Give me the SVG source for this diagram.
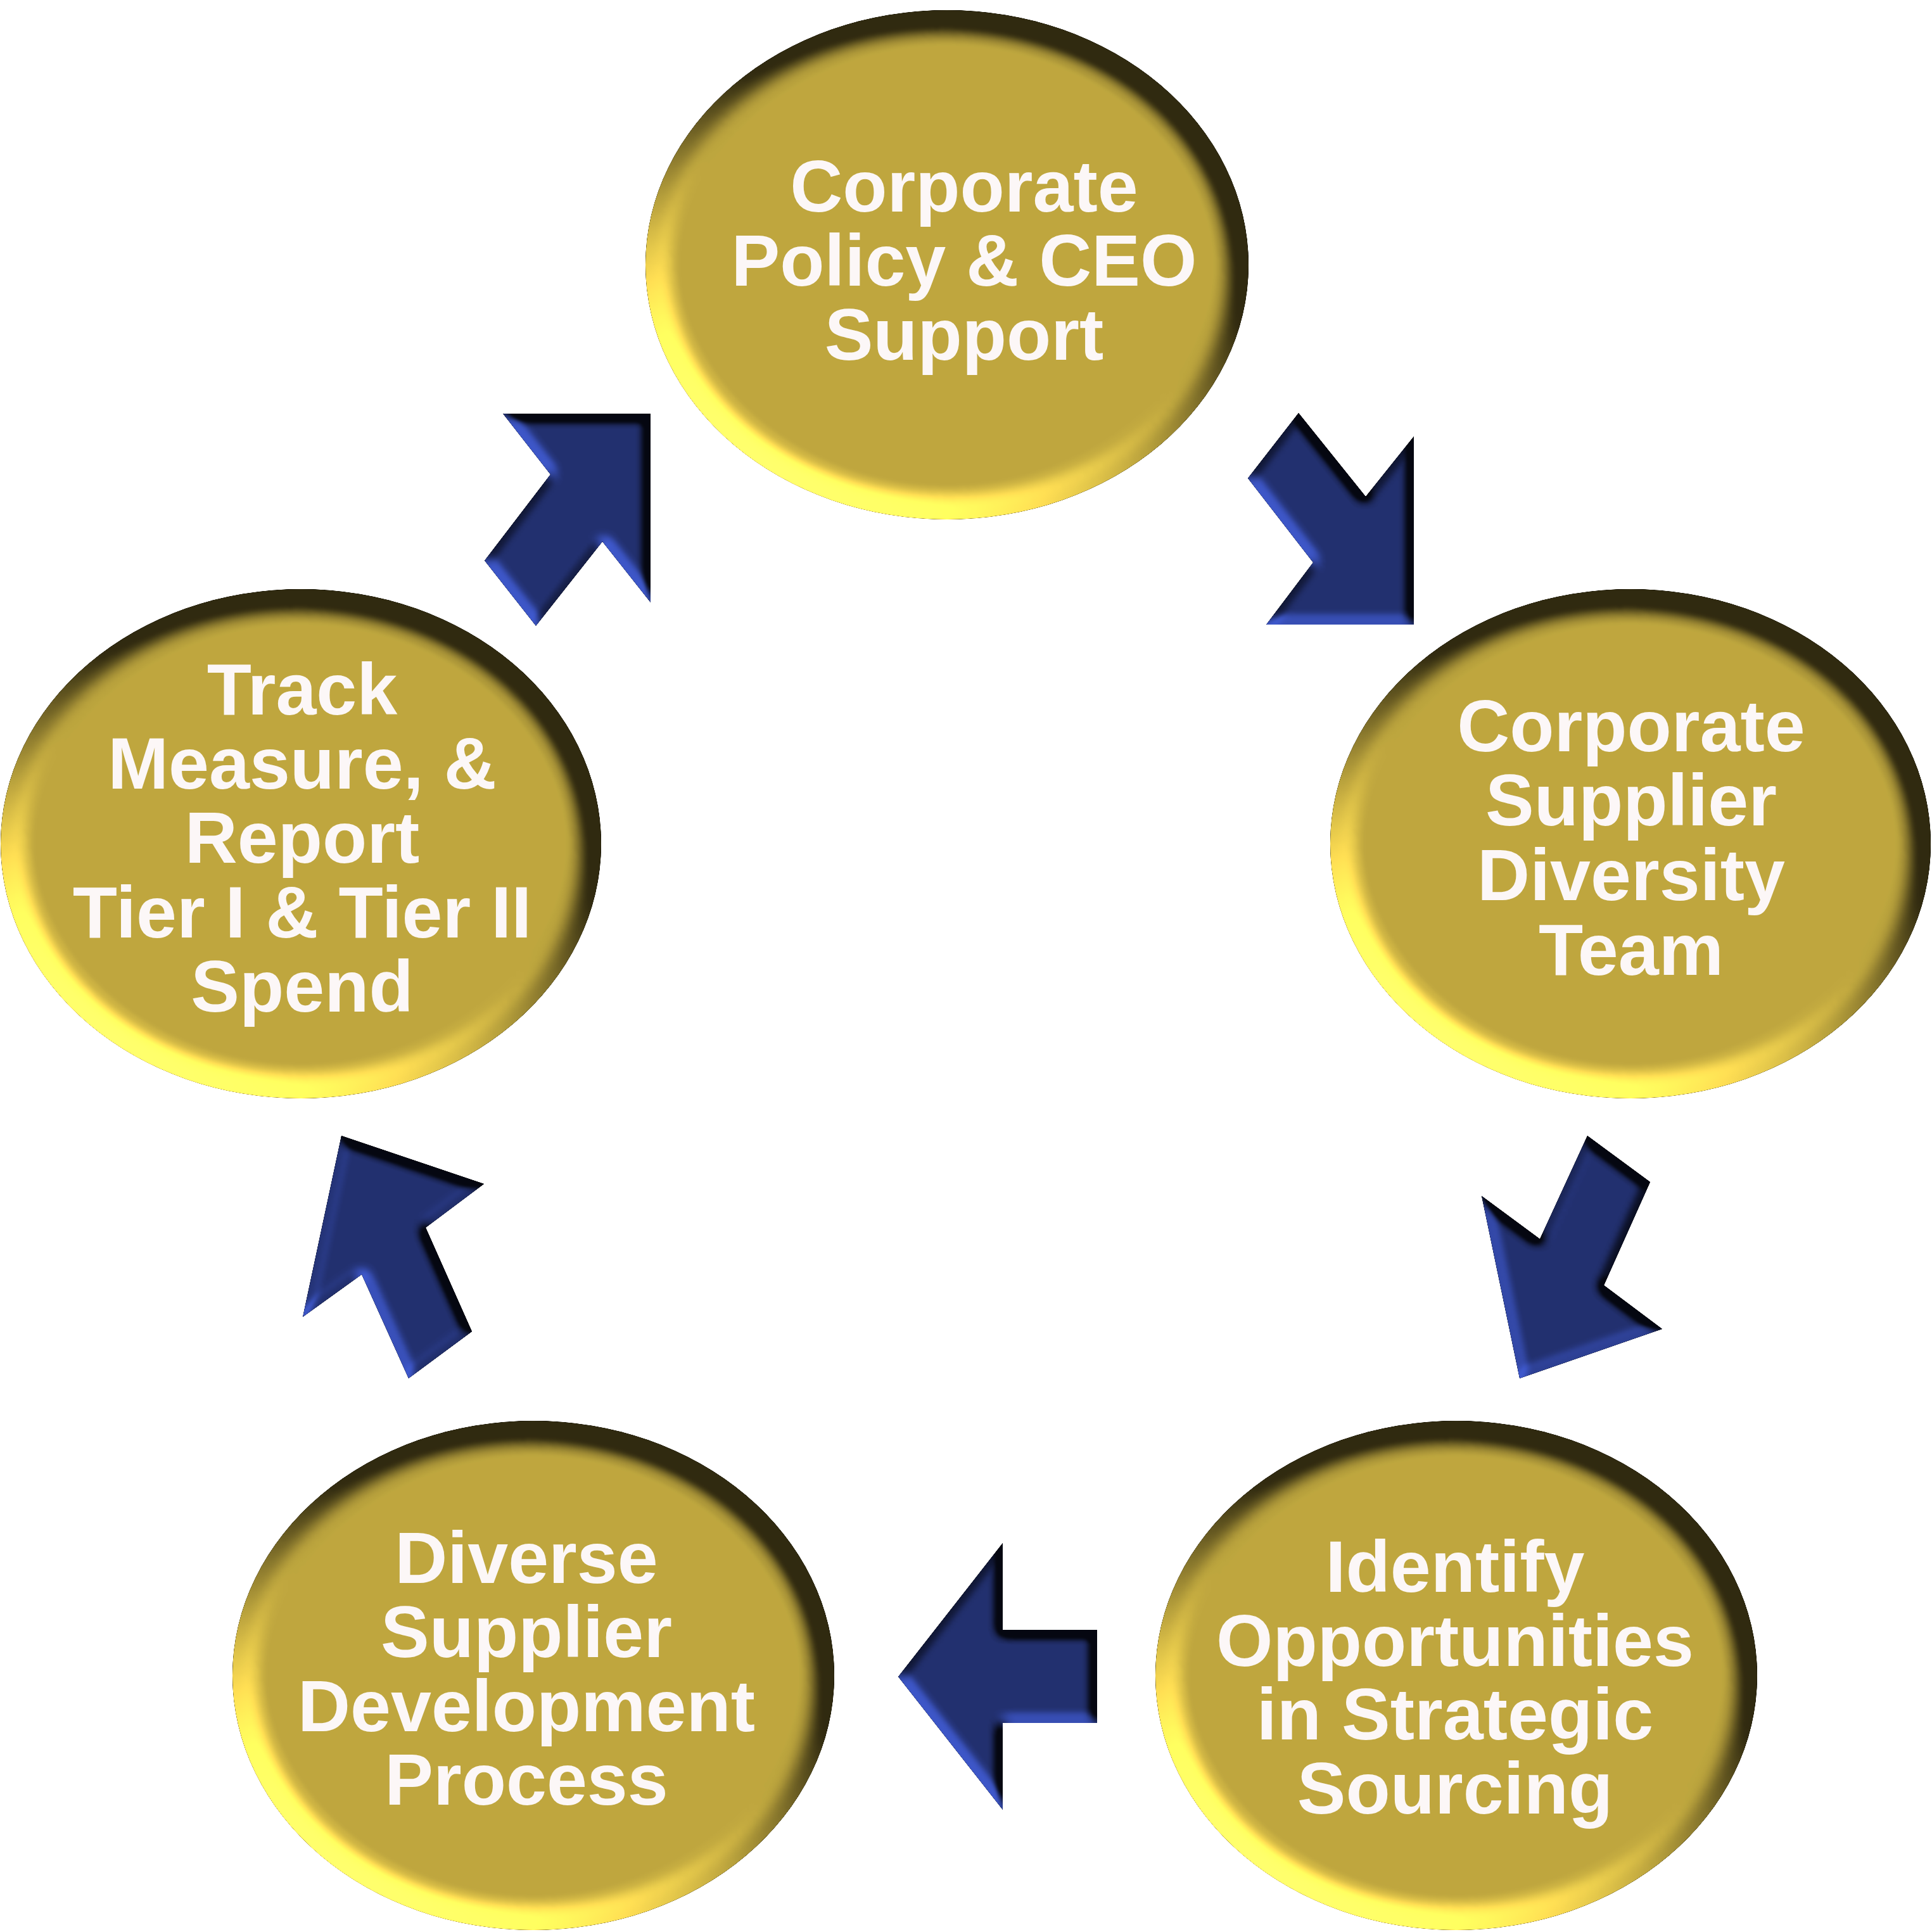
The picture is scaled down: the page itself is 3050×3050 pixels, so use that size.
<svg xmlns="http://www.w3.org/2000/svg" width="3050" height="3050" viewBox="0 0 3050 3050">
<defs>
<style>
.node ellipse{fill:#BEA63E;filter:url(#bevelE)}
.arrow polygon{fill:#22306F;filter:url(#bevelA)}
.lbl{font-family:"Liberation Sans",Arial,sans-serif;font-weight:bold;font-size:115px;fill:#FCF7F7;text-anchor:middle}
</style>
<filter id="bevelE" x="-5%" y="-5%" width="110%" height="110%" color-interpolation-filters="sRGB">
<feGaussianBlur in="SourceAlpha" stdDeviation="20" result="b"/>
<feDiffuseLighting in="b" surfaceScale="45" diffuseConstant="1" lighting-color="#ffffff" result="l">
<feDistantLight azimuth="125" elevation="30"/>
</feDiffuseLighting>
<feGaussianBlur in="l" stdDeviation="3" result="ls"/>
<feComposite in="ls" in2="SourceGraphic" operator="arithmetic" k1="1.5" k2="0" k3="0.25" k4="0"/>
</filter>
<filter id="bevelA" x="-10%" y="-10%" width="120%" height="120%" color-interpolation-filters="sRGB">
<feGaussianBlur in="SourceAlpha" stdDeviation="9" result="b"/>
<feDiffuseLighting in="b" surfaceScale="20" diffuseConstant="1" lighting-color="#ffffff" result="l">
<feDistantLight azimuth="125" elevation="30"/>
</feDiffuseLighting>
<feGaussianBlur in="l" stdDeviation="1.5" result="ls"/>
<feComposite in="ls" in2="SourceGraphic" operator="arithmetic" k1="1.7" k2="0" k3="0.15" k4="0"/>
</filter>
</defs>
<rect width="3050" height="3050" fill="#ffffff"/>
<g id="connectors" class="arrow">
<polygon id="arrow-track-to-policy" points="794,653 1027,653 1027,951 951,855 846,988 765,885 869,749"/>
<polygon id="arrow-policy-to-team" points="2050,652 2156,784 2232,689 2232,986 1999,986 2073,888 1970,755"/>
<polygon id="arrow-team-to-identify" points="2506,1793 2605,1866 2532,2029 2624,2098 2399,2176 2339,1888 2431,1956"/>
<polygon id="arrow-identify-to-diverse" points="1583,2436 1583,2573 1732,2573 1732,2720 1583,2720 1583,2857 1418,2647"/>
<polygon id="arrow-diverse-to-track" points="539,1793 764,1869 672,1938 745,2102 645,2176 571,2012 478,2079"/>
</g>
<g id="node-policy" class="node">
<ellipse cx="1495" cy="418" rx="476" ry="402"/>
<text class="lbl" x="1522" y="334">Corporate</text>
<text class="lbl" x="1522" y="451">Policy &amp; CEO</text>
<text class="lbl" x="1522" y="568">Support</text>
</g>
<g id="node-team" class="node">
<ellipse cx="2574" cy="1332" rx="474" ry="402"/>
<text class="lbl" x="2575" y="1186">Corporate</text>
<text class="lbl" x="2575" y="1303">Supplier</text>
<text class="lbl" x="2575" y="1421">Diversity</text>
<text class="lbl" x="2575" y="1539">Team</text>
</g>
<g id="node-identify" class="node">
<ellipse cx="2299" cy="2645" rx="475" ry="402"/>
<text class="lbl" x="2297" y="2513">Identify</text>
<text class="lbl" x="2297" y="2630">Opportunities</text>
<text class="lbl" x="2297" y="2746">in Strategic</text>
<text class="lbl" x="2297" y="2863">Sourcing</text>
</g>
<g id="node-diverse" class="node">
<ellipse cx="842" cy="2645" rx="475" ry="402"/>
<text class="lbl" x="831" y="2499">Diverse</text>
<text class="lbl" x="831" y="2616">Supplier</text>
<text class="lbl" x="831" y="2733">Development</text>
<text class="lbl" x="831" y="2849">Process</text>
</g>
<g id="node-track" class="node">
<ellipse cx="475" cy="1332" rx="474" ry="402"/>
<text class="lbl" x="477" y="1128">Track</text>
<text class="lbl" x="477" y="1245">Measure, &amp;</text>
<text class="lbl" x="477" y="1362">Report</text>
<text class="lbl" x="477" y="1480">Tier I &amp; Tier II</text>
<text class="lbl" x="477" y="1597">Spend</text>
</g>
</svg>
